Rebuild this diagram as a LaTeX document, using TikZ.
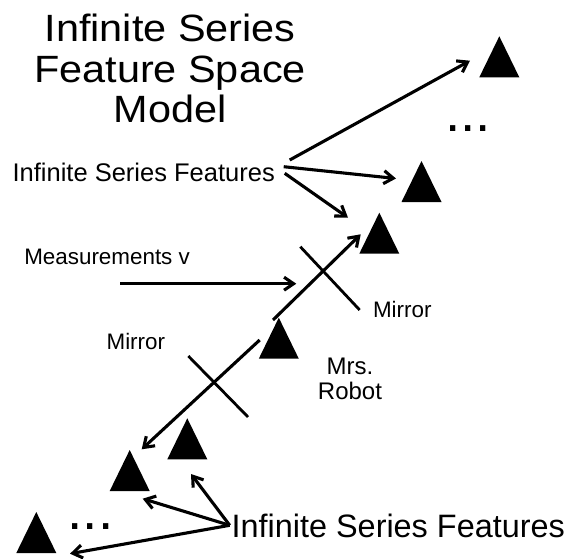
\documentclass[tikz,border=0pt]{standalone}
\usepackage{fontspec}
\setmainfont{Liberation Sans}
\newfontfamily\titlefont[FakeStretch=1.09]{Liberation Sans}
\usepackage{tikz}
\usetikzlibrary{arrows.meta, positioning, calc, shapes.geometric}

\begin{document}
\begin{tikzpicture}[
		x=1pt, y=-1pt,
		every node/.style={inner sep=0pt, outer sep=0pt},
		robot/.style={isosceles triangle, isosceles triangle stretches, shape border rotate=90,
			minimum width=40pt, minimum height=41pt, fill=black, anchor=south},
		arr/.style={line width=3.1pt, -{Straight Barb[length=9.5pt, width=13pt]}},
		mirror/.style={line width=2.8pt},
		txt/.style={anchor=base west, font=\fontsize{22.4}{26}\selectfont},
		dotstxt/.style={anchor=base west, font=\fontsize{55}{60}\selectfont}
		]
		\useasboundingbox (0,0) rectangle (579,558);
		\node[anchor=north, align=center, font=\titlefont\fontsize{38}{40.7}\selectfont] (title) at (170,14)
			{Infinite Series \\ Feature Space \\ Model};
		\node[txt, font=\fontsize{25.5}{30}\selectfont] (featA) at (12.6,181) {Infinite Series Features};
		\node[txt] (meas) at (24.3,264.3) {Measurements v};
		\node[txt] (mirA) at (373,317.7) {Mirror};
		\node[txt] (mirB) at (106.6,349.3) {Mirror};
		\node[anchor=north, align=center, font=\fontsize{24}{25}\selectfont] (mrs) at (350,357.8) {Mrs. \\ Robot};
		\node[txt, font=\fontsize{32.4}{38}\selectfont] (featB) at (231.7,537) {Infinite Series Features};
		\node[dotstxt] (dotsA) at (445,131) {...};
		\node[dotstxt] (dotsB) at (67.5,529.5) {...};
		
		\node[robot] (t1) at (499.3,77.3) {};
		\node[robot] (t2) at (421.5,202) {};
		\node[robot] (t3) at (379.3,253.7) {};
		\node[robot] (t4) at (278.8,358.7) {};
		\node[robot] (t5) at (187.3,459.3) {};
		\node[robot] (t6) at (129.7,491) {};
		\node[robot] (t7) at (36.3,553) {};
		
		\coordinate (mirU) at (323,271);
		\coordinate (mirL) at (214.7,382.7);
		\draw[mirror] ([shift={(-22.7,-24.3)}]mirU) -- ([shift={(36.7,39)}]mirU);
		\draw[mirror] ([shift={(-26.4,-26.7)}]mirL) -- ([shift={(33.3,34.3)}]mirL);
		
		\draw[arr] ([shift={(14.9,-21)}]featA.base east) -- ([shift={(-29.3,-16.6)}]t1.south);
		\draw[arr] ([shift={(8.9,-14.3)}]featA.base east) -- ([shift={(-25.5,-23.5)}]t2.south);
		\draw[arr] ([shift={(9.9,-7.7)}]featA.base east) -- ([shift={(-31.3,-36)}]t3.south);
		\draw[arr] ([shift={(95.7,19.4)}]meas.base west) -- ([shift={(-26.7,12.7)}]mirU);
		\draw[arr] ([shift={(-5.8,-38.7)}]t4.south) -- ([shift={(-18.6,-19.4)}]t3.south);
		\draw[arr] ([shift={(-19.1,-18.7)}]t4.south) -- ([shift={(12,-41.7)}]t6.south);
		\draw[arr] ([shift={(-2,-11.7)}]featB.base west) -- ([shift={(3.7,14.7)}]t5.south);
		\draw[arr] ([shift={(-2,-11.7)}]featB.base west) -- ([shift={(13,7.7)}]t6.south);
		\draw[arr] ([shift={(-2,-11.7)}]featB.base west) -- ([shift={(33.7,0.7)}]t7.south);
	\end{tikzpicture}
\end{document}
